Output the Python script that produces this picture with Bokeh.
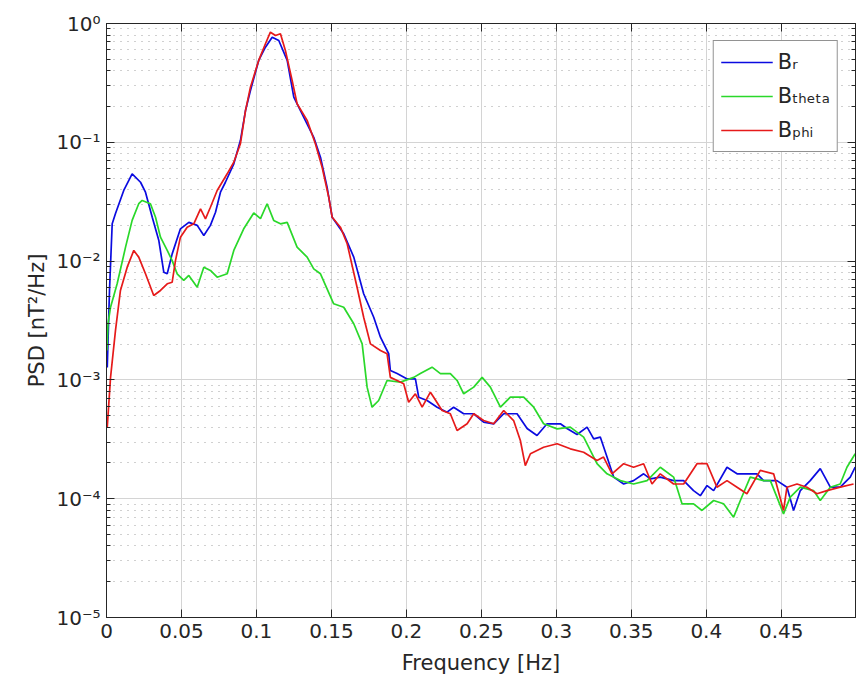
from bokeh.plotting import figure
from bokeh.models import (Range1d, LogAxis, LinearAxis, FixedTicker, Legend, LegendItem,
                          CustomJSTickFormatter)
from bokeh.embed import file_html
from bokeh.resources import INLINE

# ---------------- data (frequency [Hz], PSD [nT^2/Hz]) ----------------
br_pts = [(0.0005, 1.27e-3), (0.002, 5.66e-3), (0.0038, 0.0206), (0.006, 0.0252), (0.0115, 0.0393),
          (0.0171, 0.0543), (0.0227, 0.0461), (0.026, 0.038), (0.0305, 0.0234), (0.0349, 0.0149),
          (0.0382, 0.00807), (0.0405, 0.00782), (0.0438, 0.0115), (0.0493, 0.0187), (0.0549, 0.0212),
          (0.0605, 0.0200), (0.0649, 0.0164), (0.0693, 0.0200), (0.0727, 0.0258), (0.076, 0.038),
          (0.0793, 0.0461), (0.0849, 0.0659), (0.0893, 0.1035), (0.0927, 0.185), (0.096, 0.273),
          (0.1015, 0.489), (0.106, 0.632), (0.1105, 0.767), (0.1149, 0.719), (0.1205, 0.489),
          (0.1249, 0.240), (0.1315, 0.163), (0.1382, 0.110), (0.1427, 0.0749), (0.1471, 0.0419),
          (0.1505, 0.0234), (0.1582, 0.0170), (0.1649, 0.0108), (0.1715, 0.00531), (0.1782, 0.00337),
          (0.1827, 0.00229), (0.1882, 0.00166), (0.1893, 0.00120), (0.1938, 0.00113), (0.2005, 0.00102),
          (0.206, 0.00102), (0.2082, 7.15e-4), (0.2138, 6.71e-4), (0.2205, 5.89e-4), (0.2271, 5.35e-4),
          (0.2315, 5.89e-4), (0.2382, 5.19e-4), (0.2449, 5.19e-4), (0.2515, 4.41e-4), (0.2582, 4.27e-4),
          (0.2649, 5.19e-4), (0.2738, 5.19e-4), (0.2805, 3.90e-4), (0.2871, 3.40e-4), (0.2938, 4.27e-4),
          (0.3027, 4.27e-4), (0.3071, 3.90e-4), (0.3138, 3.47e-4), (0.3205, 4.00e-4), (0.3249, 3.19e-4),
          (0.3293, 3.30e-4), (0.3338, 2.24e-4), (0.3382, 1.52e-4), (0.3449, 1.33e-4), (0.3515, 1.42e-4),
          (0.3582, 1.62e-4), (0.3627, 1.47e-4), (0.3693, 1.52e-4), (0.3782, 1.42e-4), (0.3849, 1.42e-4),
          (0.3915, 1.17e-4), (0.396, 1.06e-4), (0.4005, 1.29e-4), (0.4049, 1.17e-4), (0.4138, 1.84e-4),
          (0.4205, 1.62e-4), (0.4271, 1.62e-4), (0.4338, 1.62e-4), (0.4382, 1.42e-4), (0.4471, 1.42e-4),
          (0.4538, 1.25e-4), (0.4582, 7.96e-5), (0.4627, 1.17e-4), (0.4693, 1.42e-4), (0.476, 1.79e-4),
          (0.4827, 1.25e-4), (0.4893, 1.25e-4), (0.496, 1.52e-4), (0.4993, 1.84e-4)]

btheta_pts = [(0.0003, 1.77e-3), (0.001, 2.97e-3), (0.0027, 4.09e-3), (0.0071, 6.44e-3), (0.0127, 0.0131),
              (0.0171, 0.0220), (0.0215, 0.0304), (0.0238, 0.0324), (0.0293, 0.0304), (0.0327, 0.0234),
              (0.036, 0.0159), (0.0405, 0.0123), (0.0438, 0.0101), (0.0471, 7.82e-3), (0.0515, 6.87e-3),
              (0.0549, 7.57e-3), (0.0605, 6.03e-3), (0.0649, 8.89e-3), (0.0693, 8.34e-3), (0.0738, 7.32e-3),
              (0.0805, 7.82e-3), (0.0849, 0.0123), (0.0915, 0.0187), (0.0982, 0.0254), (0.1027, 0.0228),
              (0.1071, 0.0304), (0.1115, 0.0220), (0.116, 0.0206), (0.1205, 0.0212), (0.1271, 0.0131),
              (0.1338, 0.0108), (0.1382, 8.61e-3), (0.1427, 7.82e-3), (0.1515, 4.37e-3), (0.1582, 4.09e-3),
              (0.1649, 2.97e-3), (0.1705, 2.01e-3), (0.1738, 8.69e-4), (0.1771, 5.89e-4), (0.1815, 6.71e-4),
              (0.1871, 9.89e-4), (0.196, 9.57e-4), (0.2049, 1.05e-3), (0.2093, 1.13e-3), (0.2171, 1.28e-3),
              (0.2227, 1.13e-3), (0.2293, 1.13e-3), (0.2338, 9.89e-4), (0.2382, 7.64e-4), (0.2449, 8.69e-4),
              (0.2505, 1.05e-3), (0.256, 8.69e-4), (0.2627, 5.89e-4), (0.2693, 7.15e-4), (0.2782, 7.15e-4),
              (0.2849, 5.89e-4), (0.2915, 4.27e-4), (0.3005, 3.87e-4), (0.3093, 4.00e-4), (0.3182, 3.30e-4),
              (0.3271, 1.97e-4), (0.3338, 1.62e-4), (0.3427, 1.42e-4), (0.3515, 1.33e-4), (0.3605, 1.42e-4),
              (0.3693, 1.84e-4), (0.3782, 1.52e-4), (0.3838, 9.06e-5), (0.3915, 9.06e-5), (0.3971, 7.96e-5),
              (0.4049, 9.66e-5), (0.4115, 9.06e-5), (0.4182, 6.99e-5), (0.4227, 9.66e-5), (0.4293, 1.52e-4),
              (0.4382, 1.42e-4), (0.4427, 1.42e-4), (0.4471, 1.03e-4), (0.4515, 7.46e-5), (0.456, 1.03e-4),
              (0.4627, 1.25e-4), (0.4715, 1.17e-4), (0.476, 9.66e-5), (0.4827, 1.25e-4), (0.4893, 1.33e-4),
              (0.4938, 1.84e-4), (0.4993, 2.39e-4)]

bphi_pts = [(0.0005, 4.00e-4), (0.0027, 1.05e-3), (0.006, 2.61e-3), (0.0093, 5.66e-3), (0.0138, 8.89e-3),
            (0.0182, 0.0123), (0.0215, 0.0108), (0.026, 7.82e-3), (0.0315, 5.13e-3), (0.036, 5.66e-3),
            (0.0405, 6.44e-3), (0.0438, 6.64e-3), (0.046, 0.0101), (0.0493, 0.0159), (0.0538, 0.0193),
            (0.0582, 0.0206), (0.0627, 0.0275), (0.066, 0.0227), (0.0693, 0.0284), (0.0738, 0.0393),
            (0.0805, 0.0543), (0.0849, 0.068), (0.0893, 0.0971), (0.0927, 0.185), (0.096, 0.291),
            (0.1015, 0.489), (0.106, 0.675), (0.1093, 0.845), (0.1127, 0.792), (0.116, 0.819),
            (0.1193, 0.593), (0.1238, 0.331), (0.1271, 0.211), (0.1338, 0.153), (0.1393, 0.0971),
            (0.1438, 0.0617), (0.1482, 0.0345), (0.1505, 0.0234), (0.156, 0.0193), (0.1605, 0.0140),
            (0.1671, 6.03e-3), (0.1715, 3.37e-3), (0.176, 2.01e-3), (0.1827, 1.77e-3), (0.1871, 1.66e-3),
            (0.1893, 1.05e-3), (0.1938, 9.89e-4), (0.1982, 9.27e-4), (0.2015, 6.49e-4), (0.206, 7.64e-4),
            (0.2105, 5.89e-4), (0.216, 7.88e-4), (0.2182, 7.15e-4), (0.2238, 5.52e-4), (0.2293, 5.19e-4),
            (0.2338, 3.75e-4), (0.2405, 4.27e-4), (0.2449, 5.19e-4), (0.2515, 4.55e-4), (0.2582, 4.27e-4),
            (0.2649, 5.52e-4), (0.2715, 4.55e-4), (0.276, 3.09e-4), (0.2793, 1.90e-4), (0.2827, 2.39e-4),
            (0.2915, 2.71e-4), (0.3005, 2.90e-4), (0.3093, 2.63e-4), (0.3182, 2.46e-4), (0.3271, 2.10e-4),
            (0.3315, 2.24e-4), (0.3371, 1.62e-4), (0.3449, 1.97e-4), (0.3515, 1.84e-4), (0.3582, 1.97e-4),
            (0.3638, 1.33e-4), (0.3693, 1.62e-4), (0.3782, 1.33e-4), (0.3849, 1.33e-4), (0.3938, 1.97e-4),
            (0.4005, 1.97e-4), (0.4071, 1.25e-4), (0.4138, 1.42e-4), (0.4205, 1.25e-4), (0.4271, 1.10e-4),
            (0.436, 1.73e-4), (0.4449, 1.62e-4), (0.4515, 7.96e-5), (0.4538, 1.25e-4), (0.4605, 1.33e-4),
            (0.4671, 1.25e-4), (0.4738, 1.10e-4), (0.4805, 1.17e-4), (0.4893, 1.25e-4), (0.4982, 1.33e-4)]

series_names = ["Bᵣ", "Bₜₕₑₜₐ", "Bₚₕᵢ"]
series_colors = ["#0b0be0", "#2ad82a", "#e61a1a"]

x_ticks = [0, 0.05, 0.1, 0.15, 0.2, 0.25, 0.3, 0.35, 0.4, 0.45]
x_tick_labels = ["0", "0.05", "0.1", "0.15", "0.2", "0.25", "0.3", "0.35", "0.4", "0.45"]
y_ticks = [1e-5, 1e-4, 1e-3, 1e-2, 1e-1, 1.0]
y_tick_labels = ["10⁻⁵", "10⁻⁴", "10⁻³", "10⁻²", "10⁻¹", "10⁰"]
y_minor = [m * d for d in [1e-5, 1e-4, 1e-3, 1e-2, 1e-1] for m in range(2, 10)]

FONT = "DejaVu Sans"
AX = "#262626"

p = figure(frame_width=749, frame_height=594,
           x_range=Range1d(0, 0.4995), y_range=Range1d(1e-5, 1.0),
           y_axis_type="log", output_backend="svg", toolbar_location=None,
           min_border_left=106, min_border_top=23, min_border_right=6, min_border_bottom=8,
           background_fill_color="white", border_fill_color="white")

xticker = FixedTicker(ticks=x_ticks, minor_ticks=[])
yticker = FixedTicker(ticks=y_ticks, minor_ticks=y_minor)

xfmt = CustomJSTickFormatter(args=dict(tvals=x_ticks, tlabels=x_tick_labels), code="""
let best = 0, bd = 1e9;
for (let i = 0; i < tvals.length; i++) { const d = Math.abs(tvals[i] - tick); if (d < bd) { bd = d; best = i; } }
return tlabels[best];
""")
yfmt = CustomJSTickFormatter(args=dict(tvals=y_ticks, tlabels=y_tick_labels), code="""
let best = 0, bd = 1e9;
for (let i = 0; i < tvals.length; i++) { const d = Math.abs(Math.log10(tvals[i]) - Math.log10(tick)); if (d < bd) { bd = d; best = i; } }
return tlabels[best];
""")
blank = CustomJSTickFormatter(code="return '';")

def style_axis(ax, minor=False):
    ax.axis_line_color = AX
    ax.major_tick_line_color = AX
    ax.major_tick_in = 8
    ax.major_tick_out = 0
    if minor:
        ax.minor_tick_line_color = AX
        ax.minor_tick_in = 4
        ax.minor_tick_out = 0
    else:
        ax.minor_tick_line_color = None
    ax.major_label_text_font = FONT
    ax.major_label_text_font_size = "20px"
    ax.major_label_text_color = AX
    ax.axis_label_text_font = FONT
    ax.axis_label_text_font_size = "21px"
    ax.axis_label_text_font_style = "normal"
    ax.axis_label_text_color = AX

xa = p.xaxis[0]
xa.ticker = xticker
xa.formatter = xfmt
xa.axis_label = "Frequency [Hz]"
style_axis(xa)
xa.major_label_standoff = 6
xa.axis_label_standoff = 10

ya = p.yaxis[0]
ya.ticker = yticker
ya.formatter = yfmt
ya.axis_label = "PSD [nT²/Hz]"
style_axis(ya, minor=True)
ya.major_label_standoff = 6
ya.axis_label_standoff = 4

top = LinearAxis(ticker=xticker, formatter=blank)
style_axis(top)
top.major_label_text_font_size = "1px"
p.add_layout(top, "above")

right = LogAxis(ticker=yticker, formatter=blank)
style_axis(right, minor=True)
right.major_label_text_font_size = "1px"
p.add_layout(right, "right")

p.xgrid.ticker = xticker
p.ygrid.ticker = yticker
p.xgrid.grid_line_color = "#d4d4d4"
p.ygrid.grid_line_color = "#d4d4d4"
p.ygrid.minor_grid_line_color = "#a0a0a0"
p.ygrid.minor_grid_line_dash = "1 6"
p.ygrid.minor_grid_line_width = 1
p.outline_line_color = AX

renderers = []
for pts, col in zip([br_pts, btheta_pts, bphi_pts], series_colors):
    xs = [a for a, b in pts]
    ys = [b for a, b in pts]
    renderers.append(p.line(xs, ys, line_color=col, line_width=1.7))

legend = Legend(items=[LegendItem(label=n, renderers=[r]) for n, r in zip(series_names, renderers)],
                location="top_right")
legend.label_text_font = FONT
legend.label_text_font_size = "21px"
legend.label_text_color = AX
legend.border_line_color = AX
legend.border_line_width = 1
legend.glyph_width = 52
legend.glyph_height = 28
legend.label_height = 28
legend.spacing = 6
legend.padding = 7
legend.label_standoff = 5
legend.margin = 17
legend.background_fill_alpha = 1.0
p.add_layout(legend)

open("out.html", "w").write(file_html(p, INLINE))
